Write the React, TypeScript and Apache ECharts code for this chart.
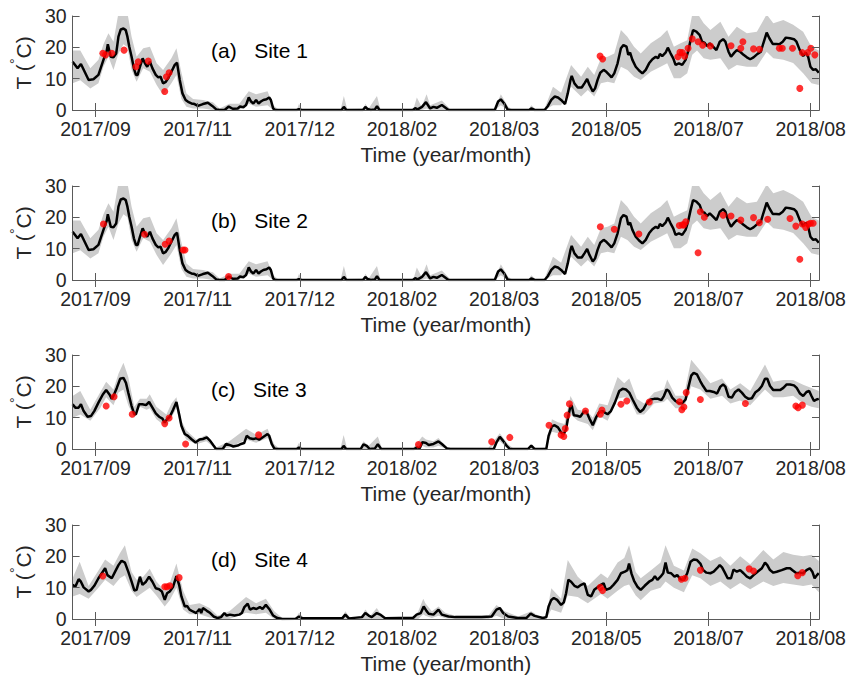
import React, { useEffect, useRef } from "react";
import * as echarts from "echarts";

// Day numbers count from 2017-09-01 (day 0).
const tickDays = [14, 63, 112, 161, 210, 259, 308, 357];
const tickLabels = ["2017/09", "2017/11", "2017/12", "2018/02", "2018/03", "2018/05", "2018/07", "2018/08"];
const dayRange = [3, 361];
const tempTicks = [0, 10, 20, 30];
const panelTitles = ["(a)   Site 1", "(b)   Site 2", "(c)   Site 3", "(d)   Site 4"];

// Simulated daily mean water temperature [day, °C]; Sites 1 and 2 share one grid cell.
const meanSites12 = [
  [3.0, 15.4], [5.4, 13.3], [7.0, 14.7], [10.7, 9.6], [13.0, 9.8], [15.4, 11.2], [17.8, 16], [19.4, 19], [19.9, 21],
  [21.3, 17], [22.6, 16.8], [23.9, 18], [25.0, 23.4], [26.1, 25.7], [27.4, 26], [28.5, 25.5], [29.3, 23.4], [30.2, 20.2],
  [31.3, 17], [32.4, 13.3], [33.4, 11.2], [34.2, 11.2], [35.3, 13.8], [36.6, 16.5], [37.7, 14.9], [38.8, 13.8], [40.1, 15.4],
  [41.3, 13.3], [42.9, 11.2], [44.1, 10.4], [45.2, 10.6], [46.4, 8.5], [47.7, 9], [48.8, 10.1], [50.4, 12.2], [52.0, 14.4],
  [53.1, 15.1], [54.4, 9.6], [55.7, 5.3], [57.2, 3.2], [58.4, 2.6], [60.0, 2.1], [61.5, 1.9], [63.1, 1.3], [65.5, 1.9],
  [67.9, 2.3], [70.0, 1.3], [71.9, 0.2], [73.5, 0], [75.9, 0], [77.9, 1.1], [79.8, 0.4], [82.2, 0.5], [83.3, 1.1], [84.9, 0.9],
  [86.2, 1.6], [87.5, 4], [88.6, 2.7], [89.7, 2.1], [91.0, 3.2], [92.2, 2.1], [93.3, 2.7], [94.5, 3.2], [96.0, 3.4], [97.3, 4],
  [98.1, 3.2], [99.2, 0.5], [100.2, 0], [110.5, 0], [111.6, 0.3], [112.7, 0], [132, 0], [133.1, 1], [134.3, 0], [142.3, 0],
  [143.4, 1], [144.5, 0.3], [146, 0], [148, 0.2], [149, 1.2], [150.2, 0], [166.2, 0], [167.3, 0.6], [168.5, 0.2], [170.6, 1],
  [172.5, 2.5], [174.5, 0.5], [176.1, 1], [177.7, 0.7], [180.1, 1.6], [181.7, 0.8], [183.3, 0], [205.5, 0], [207.1, 2.7],
  [208.4, 3.4], [210, 2.1], [211.6, 0.2], [212.7, 0], [222, 0], [223, 0.5], [224.6, 0], [229.4, 0], [231, 1.3], [232.6, 3.2],
  [234.2, 4.3], [235.8, 4], [237.3, 3.2], [239.2, 1.9], [240.5, 5.3], [241.8, 9.6], [242.4, 10.9], [243.7, 8.5], [245.3, 7.2],
  [247.2, 7.2], [248.5, 8.5], [249.8, 9.9], [250.9, 8], [252.5, 5.9], [253.6, 6.9], [254.8, 9.6], [256.1, 11.9], [257.7, 12.8],
  [259, 12.2], [260.4, 11.2], [261.5, 10.4], [262.8, 11.7], [264.4, 14.9], [266, 19.7], [267.2, 20.7], [268.7, 20.2],
  [269.5, 17.6], [270.4, 18.3], [271.5, 16], [273.1, 13.8], [274.7, 12.6], [276.3, 11.7], [277.9, 12.8], [279.5, 14.9],
  [281.1, 16.2], [282.7, 17], [283.8, 16.5], [284.7, 17.9], [285.8, 17.2], [287.4, 18.3], [288.5, 19.9], [289.8, 18.1],
  [291.1, 16.5], [292.2, 14.4], [293.8, 14.9], [295.4, 14.4], [297, 16], [298.2, 18.6], [299.4, 22.3], [300.6, 25.5],
  [302.2, 25], [303.8, 23.9], [304.9, 21.8], [306, 21.5], [307.3, 20.4], [308.6, 21.3], [310.2, 20.2], [311.8, 19.1],
  [313.4, 21.8], [315, 22.6], [316.1, 21.8], [317.6, 18.6], [318.8, 17], [320.4, 18.3], [321.6, 19.1], [323.2, 18.6],
  [324.8, 17.6], [326.4, 16.8], [328, 16.2], [329.6, 16.8], [331.5, 17.9], [333.1, 18.6], [334.3, 21.3], [335.9, 24.7],
  [337.2, 22.9], [338.8, 21.1], [340.4, 21.1], [342, 21], [343.6, 21.8], [345.1, 23.1], [347.1, 22.9], [349, 22.6],
  [350.2, 21.8], [351.8, 19.1], [353.4, 17.2], [354.6, 18.3], [355.8, 17], [356.9, 13.8], [358.2, 12.8], [359.5, 13], [360.9, 11.9],
];

// Uncertainty envelope [day, lower, upper] in °C.
const bandSites12 = [
  [3, 8.5, 19], [6.7, 9.5, 19], [11.5, 6.9, 13.3], [15.4, 8.5, 16], [17.8, 13.8, 21], [20.2, 17, 24.5], [22.6, 12.8, 21.8],
  [25, 18, 31], [27.4, 21, 32], [29.3, 20, 31], [31.3, 12.8, 23.4], [33.7, 9, 17], [36.9, 13.3, 19.7], [40.1, 12.2, 20.2],
  [43.3, 8, 14.9], [46.4, 4.8, 12.8], [50.4, 8.5, 16.5], [52.8, 11.2, 19.7], [55.2, 3.5, 12], [57.6, 1, 5.3], [60.8, 0.5, 3.5],
  [65.5, 0.5, 3.2], [70.3, 0, 2.5], [73.5, 0, 0.5], [78.2, 0, 2], [83, 0, 2], [87.5, 2, 6], [91, 1, 5], [96.5, 1.5, 6],
  [99.2, 0, 1.5], [102.1, 0, 0], [110.5, 0, 0], [111.6, 0, 2], [113.2, 0, 0], [131.5, 0, 0], [133.1, 0, 4.5], [134.7, 0, 0.3],
  [142.6, 0, 0.5], [143.4, 0, 2], [145, 0, 0.5], [149, 0, 4.5], [150.6, 0, 0.3], [166.5, 0, 0.3], [168.1, 0, 4], [170.4, 0, 1],
  [172.8, 0.5, 5], [174.5, 0, 1.5], [180.1, 0, 3], [184.1, 0, 0.3], [205.5, 0, 0.5], [208.4, 1.5, 5], [211.9, 0, 1],
  [214.3, 0, 0], [221.5, 0, 0], [223, 0, 1.5], [225.4, 0, 0], [229.4, 0, 0.5], [233.4, 1.5, 7.4], [237.3, 1.5, 5.5],
  [242.1, 7.4, 14.4], [246.9, 4.3, 10.6], [250.1, 6.4, 13.8], [253.2, 4.3, 11.2], [256.4, 8.5, 16.5], [259.6, 9, 17],
  [262.8, 8.5, 18], [266, 13.8, 25.5], [269.1, 12.8, 23.4], [272.3, 10.6, 20.2], [275.5, 9.6, 18], [280.3, 12.2, 21.3],
  [285, 13.8, 23.4], [288.2, 14.9, 25.5], [291.4, 10.1, 20.2], [294.6, 10.1, 21.3], [297.8, 11.7, 22.3], [300.2, 17.6, 30.5],
  [302.5, 19, 31], [305.7, 16.5, 27.7], [308.9, 16, 25.5], [313.7, 16.5, 28.2], [317.6, 12.8, 23.4], [321.6, 14.4, 26.6],
  [326.4, 13.8, 24.5], [331.2, 13.8, 25], [335.9, 18.6, 30.5], [339.1, 16.5, 27.7], [343.9, 16, 28.7], [348.6, 15, 27.2],
  [353.4, 11.7, 25], [357.4, 8.5, 20.2], [360.9, 8, 19],
];

const meanSite3 = [
  [3.0, 14.3], [4.3, 13.2], [5.9, 13.2], [7.0, 14.3], [8.3, 12.1], [10.2, 10.3], [11.8, 10.5], [13.4, 12.1], [15.4, 14.8],
  [17.5, 17.4], [19.1, 18.8], [20.7, 17.4], [21.8, 16], [22.9, 17.4], [24.2, 19.5], [25.8, 22.4], [27.4, 22.7], [28.6, 21.1],
  [29.7, 18], [31.3, 13.7], [32.6, 11.1], [33.4, 11.1], [34.9, 14.3], [36.5, 14.3], [38.2, 14], [39.7, 15], [41.3, 13.2],
  [42.9, 11.4], [44.5, 10.3], [46.1, 9.7], [47.2, 8.4], [48.3, 9.5], [49.6, 10.3], [51.2, 12.5], [52.8, 15], [54.1, 11.1],
  [55.2, 7.4], [56.8, 4.8], [58.3, 4.2], [59.9, 3.2], [62.0, 2.1], [63.9, 3], [65.5, 3.2], [67.4, 3.7], [69.0, 2.6],
  [70.6, 1.1], [71.8, 0], [75.0, 0], [76.6, 1.6], [78.2, 1.3], [80.1, 0.8], [82.2, 1.1], [83.8, 1.6], [85.3, 1.9], [86.5, 4.2],
  [88.0, 3.4], [89.6, 3.2], [91.2, 3.4], [92.5, 3], [94.1, 3.7], [96.5, 4.8], [97.3, 4.2], [98.5, 1.6], [99.7, 0.2], [100.8, 0],
  [110.5, 0], [111.6, 0.5], [112.7, 0], [132, 0], [133, 1], [134.2, 0], [141.2, 0], [142.5, 1.5], [144.1, 1], [145.5, 0],
  [148, 0.2], [149.4, 1.5], [151, 0], [166.8, 0], [168.2, 0.5], [169.5, 0.2], [170.8, 2.2], [172.5, 1.9], [173.8, 1.3],
  [176.1, 1.6], [178.5, 2.4], [180.1, 1.6], [182.5, 0.2], [184.1, 0], [205, 0], [206.3, 2.1], [207.9, 3.9], [209.5, 2.6],
  [211.1, 1.1], [212.7, 0], [221.4, 0], [223, 1.1], [224.6, 0], [230.2, 0], [231.3, 4.2], [232.9, 7.2], [234.2, 7.6],
  [235.8, 6.9], [237.3, 5.3], [238.6, 4.8], [239.7, 6.3], [240.5, 9.5], [241.8, 13.7], [242.4, 13.9], [243.4, 10.8],
  [245, 10.6], [246.5, 10.3], [248.1, 11.8], [249.3, 12.1], [250.9, 9.7], [252.5, 7.6], [254, 10], [255.6, 11.8],
  [257.2, 12.1], [258.3, 11.6], [259.6, 11.1], [261.2, 12.1], [263.1, 14.8], [265.2, 18.5], [266.8, 19.2], [268.4, 19],
  [270, 18], [271.6, 15.8], [273.6, 13.2], [275.2, 11.8], [276.8, 12.7], [278.4, 14.6], [280.3, 15.8], [281.9, 16],
  [283.8, 16], [285.4, 15.6], [286.6, 16.9], [287.9, 19], [289, 18.5], [290.6, 16.4], [292.2, 15.3], [293.8, 14.6],
  [295.4, 14.6], [297, 15.8], [298.5, 20.1], [299.7, 23.4], [300.9, 24.3], [302.5, 23.8], [304.1, 21.6], [305.4, 20.1],
  [307, 18.5], [308.6, 18.5], [310.5, 18.2], [312.1, 17.7], [313.7, 19.9], [315, 20.6], [316.1, 19.9], [317.6, 16.7],
  [319.2, 16.4], [320.8, 18.2], [322.4, 19], [324, 18], [325.6, 16.7], [327.2, 16], [328.8, 16.2], [330.4, 18], [332, 18.8],
  [333.6, 20.1], [335.1, 22.4], [336.2, 22.4], [337.5, 20.1], [339.1, 18.8], [340.7, 18.8], [342.3, 18.8], [343.9, 19.5],
  [345.5, 20.6], [347.1, 20.6], [349, 20.3], [350.3, 19.5], [351.9, 17.7], [353.4, 16.9], [355, 18.2], [356.3, 18.5],
  [357.4, 16.9], [358.6, 15.3], [359.8, 15.8], [360.9, 16],
];

const bandSite3 = [
  [3, 10, 16.9], [6.7, 11, 18.5], [11.5, 9, 12.5], [16.2, 13, 18], [19.1, 16.5, 21.5], [22.6, 14, 19], [25, 18, 24],
  [27.4, 19, 27.5], [29.7, 14, 23], [32.6, 10, 13.5], [35.3, 13.5, 16], [38.5, 12.5, 16], [40, 13, 17.5], [43.2, 9.5, 13.5],
  [46.1, 8, 12], [48, 7.5, 11], [50.4, 10, 14.5], [52.8, 13, 16.5], [55.2, 6, 9], [57.5, 3, 6], [62.3, 1.5, 3],
  [67.1, 2.5, 4.5], [71.8, 0, 0.5], [78.2, 0.5, 2.5], [86.2, 3, 6.5], [91, 2, 4.5], [96.5, 3.5, 6.5], [99.7, 0, 1.5],
  [102, 0, 0.2], [110, 0, 0], [111.6, 0, 2], [113.2, 0, 0], [131.4, 0, 0], [133, 0, 4.5], [134.6, 0, 0.3], [140.9, 0, 0.3],
  [142.5, 0, 2.5], [145, 0, 1], [149.4, 0, 4], [151.3, 0, 0.3], [166.4, 0, 0.3], [170.7, 1, 4], [172.5, 0.5, 3],
  [176.1, 0.5, 2.5], [178.5, 1, 3.5], [182.5, 0, 0.5], [202.4, 0, 0.3], [207.9, 2.5, 5], [211.9, 0, 1.5], [214.3, 0, 0.2],
  [221.4, 0, 0.3], [223, 0, 1.5], [225.4, 0, 0.2], [230.2, 0, 0.5], [232.9, 5.5, 9.5], [235.8, 5, 8.5], [238.9, 4, 8],
  [241.8, 11, 16.9], [245.3, 9, 12.5], [250.1, 8, 12], [252.5, 6, 10], [255.6, 10.5, 14.5], [259.6, 9, 14], [264.4, 16, 23],
  [267.6, 16.5, 21], [270, 16, 22.5], [273.6, 11, 16], [277.1, 11, 14.5], [281.9, 14.5, 18], [286.6, 15, 19],
  [288.2, 16, 22.2], [292.2, 13, 17], [296.2, 13, 17], [299.7, 20, 28.5], [304.1, 19, 25], [308.9, 16, 21], [314.5, 17, 22.5],
  [318.5, 14.5, 19], [323.2, 15.5, 21], [328, 14, 18.5], [335.1, 19, 27], [339.1, 16.5, 21.5], [343.9, 16.5, 22],
  [348.6, 17, 22], [353.4, 14.5, 20.5], [357.4, 13.5, 19.5], [360.9, 13, 18.5],
];

const meanSite4 = [
  [3.0, 10.9], [4.3, 10.3], [5.9, 12.7], [7.0, 11.9], [8.3, 10.1], [10.7, 8.8], [11.8, 9.3], [13.4, 10.6], [15.4, 13],
  [17.5, 15.1], [18.6, 16.2], [19.7, 14], [21.8, 13], [23.4, 15.1], [25, 17.2], [26.5, 18.6], [28.1, 18], [29.7, 15.1],
  [31.3, 11.9], [32.6, 9.1], [33.7, 9.3], [35.3, 13.5], [36.5, 10.9], [38.2, 11.9], [39.7, 13.5], [41.3, 11.9], [42.9, 9.8],
  [44.5, 9.5], [45.8, 8.8], [47.2, 6.1], [48.3, 8.2], [49.6, 8.8], [51.2, 10.3], [52.8, 13.7], [54.1, 10.9], [55.2, 7.2],
  [56.8, 4], [57.9, 4.2], [59.1, 3], [60.7, 2.4], [62.3, 1.9], [63.9, 3.2], [64.7, 1.9], [65.5, 3.5], [67.4, 2.6], [69, 1.9],
  [70.6, 0.8], [72.6, 0.3], [74.2, 0.6], [75.8, 1.9], [76.9, 1.1], [78.5, 1.4], [80.6, 1.1], [83, 1.4], [84.2, 1.9],
  [85.4, 3.8], [87, 4.9], [88.1, 3], [89.6, 3.5], [91.2, 3.2], [92.8, 3.8], [94.1, 3.2], [95.7, 4.5], [97.3, 3.2], [99.2, 1.1],
  [101.2, 0.3], [103.6, 0], [110, 0.1], [111.6, 0.8], [113.2, 0.2], [132.3, 0.2], [133.8, 1.4], [135.5, 0.2], [141.8, 0.6],
  [143.4, 1.9], [145, 1.1], [146.5, 0.6], [148.9, 1.9], [150.5, 1.4], [152.9, 0.2], [166.4, 0.4], [168, 1.4], [170, 1.9],
  [171.4, 4], [172.7, 2.6], [173.8, 1.7], [176.1, 1.4], [178.5, 3], [180.1, 1.4], [183.3, 0.8], [186.5, 0.6], [191.3, 0.6],
  [196, 0.6], [199.2, 0.6], [204, 0.8], [206.3, 3], [207.9, 3.5], [209.5, 1.9], [211.9, 0.8], [216.5, 0.3], [220.6, 0.3],
  [222.7, 1.7], [224.6, 1], [228.6, 0.3], [230.2, 0.6], [231.3, 4], [232.6, 6.1], [233.8, 6.7], [235.4, 6.1], [237.3, 4.5],
  [238.6, 5.3], [239.7, 8.2], [240.8, 12.5], [242.1, 11.9], [243.7, 10.6], [245.3, 10.1], [246.9, 10.9], [248.5, 11.4],
  [250.1, 7.7], [251.7, 7.2], [253.2, 9.3], [254.8, 10.1], [256.4, 10.9], [257.7, 11.4], [258.8, 9.3], [260.8, 9.8],
  [262.4, 10.9], [264.4, 12.5], [266, 14.6], [267.9, 15.1], [269.1, 15.6], [269.9, 17.7], [271.1, 14.4], [272.3, 12.2],
  [273.9, 10.3], [275.5, 9.3], [277.4, 10.6], [279.5, 11.9], [281.1, 12.5], [282.3, 13.7], [283.5, 12.5], [285, 13.5],
  [286.3, 14.6], [287.4, 18], [288.5, 14.8], [290.1, 14.6], [291.7, 13.5], [293, 14], [294.6, 12.7], [296.2, 12.5],
  [297.8, 14.6], [299.4, 18.3], [300.9, 19], [302.5, 18.8], [304.1, 17.7], [305.4, 15.6], [307, 14.8], [308.9, 14.6],
  [310.5, 15.1], [312.1, 16.2], [313.4, 17.2], [314.5, 16.5], [315.6, 15.1], [317.2, 13], [318.8, 13], [320, 15.8],
  [321.6, 15.1], [323.2, 15.6], [324.8, 14.6], [326.4, 13.5], [328, 13], [329.6, 14], [331.5, 15.1], [333.6, 16.2],
  [335.1, 18], [336.2, 17.2], [337.5, 15.6], [339.1, 14.8], [340.7, 15.1], [343.1, 15.6], [345.5, 16.2], [347.1, 16.2],
  [348.6, 15.4], [350.2, 14.6], [351.8, 14.8], [353.4, 14.6], [355, 15.6], [356.6, 16.2], [357.8, 15.1], [358.9, 13],
  [360, 14], [360.9, 14.6],
];

const bandSite4 = [
  [3, 7.2, 13], [6.4, 8, 18.3], [10.7, 6.5, 10.5], [15.4, 10, 15.5], [18.6, 12.5, 19], [22.6, 10.5, 17], [25.7, 13, 21],
  [28.1, 14, 23.5], [31.3, 9, 15], [33.7, 7, 12.5], [36.9, 8.5, 13.5], [40, 10, 16], [43.2, 7.5, 12], [47.2, 4, 9],
  [49.6, 6, 11.5], [52.8, 10, 17.7], [56, 3, 9], [59.1, 1.5, 4.5], [63.9, 1.5, 5], [68.7, 0.5, 3.5], [72.6, 0, 1],
  [78.2, 0, 2.5], [86.2, 2, 7], [91, 1.5, 5], [95.7, 2, 6.5], [99.7, 0, 2.5], [103.6, 0, 0.3], [110, 0, 0.3], [111.6, 0, 2],
  [114, 0, 0.3], [132.3, 0, 0.3], [133.8, 0, 2.5], [136.2, 0, 0.3], [141.8, 0, 1], [143.4, 0, 3], [145.8, 0, 1],
  [148.9, 0, 3.5], [151.3, 0, 1], [153.7, 0, 0.3], [166.4, 0, 0.5], [168.8, 0, 2.5], [171.2, 1.5, 6.5], [172.2, 1, 5],
  [175.3, 0.3, 2.5], [178.5, 1, 4], [181.7, 0.2, 2], [186.5, 0, 1], [194.4, 0, 1], [202.4, 0, 1], [206.3, 1, 4.5],
  [210.3, 0, 2.5], [216.7, 0, 0.8], [223, 0, 2.5], [227.8, 0, 0.5], [230.2, 0, 1], [232.6, 3, 9.8], [237.3, 2, 6.5],
  [240.5, 7.5, 18.8], [245.3, 7, 13.5], [250.1, 5, 10.5], [256.4, 8, 14.5], [259.6, 6.5, 13], [264.4, 9, 18],
  [267.6, 10.5, 19.5], [269.9, 11, 23.5], [273.1, 7.5, 15], [275.5, 6, 13], [280.3, 9, 15.5], [285, 10, 18],
  [287.4, 12, 23.5], [291.4, 10, 17], [296.2, 8.5, 15.5], [300.2, 14, 22.5], [304.1, 13, 21], [308.9, 10.5, 18.5],
  [313.7, 12, 20], [318.5, 9.5, 17], [323.2, 11.5, 20], [328, 9.5, 17.5], [334.3, 12, 22], [339.1, 10.5, 19],
  [343.9, 11.5, 21.4], [348.6, 11, 20.5], [353.4, 10.5, 20], [357.4, 11, 20.5], [360.9, 8.5, 18.5],
];

// Observed temperatures [day, °C].
const obsSite1 = [
  [17.5, 18.1], [18.8, 17.6], [21.8, 18.1], [27.7, 19.1], [33.4, 13.8], [34.5, 15.4], [39.3, 15.6], [47.2, 5.9], [48, 10.6],
  [49.3, 11.9], [256, 17.2], [257.2, 16.3], [293.3, 17], [294.3, 18.4], [295.5, 18.3], [296.5, 17.2], [298.2, 19.7],
  [300.2, 22.7], [303, 21.8], [305.2, 20.7], [308.9, 20.4], [318.8, 20.5], [323.5, 19.7], [324.5, 21.8], [329.6, 19.5],
  [332.4, 19.4], [342, 19.7], [343.4, 19.7], [348.3, 19.7], [351.8, 6.9], [353, 18.3], [355.5, 18.3], [357.1, 19.7], [359, 17.6],
];
const obsSite2 = [
  [17.8, 17.9], [37.5, 14.6], [47.4, 11.4], [49.3, 12.4], [56, 9.6], [56.9, 9.6], [77.8, 1.1], [256.1, 17], [262.8, 16.2],
  [274.6, 14.7], [294, 17.4], [295.5, 17.6], [296.2, 17.6], [297.1, 18.6], [303, 8.7], [304.1, 21.8], [306, 20], [315, 20.7],
  [318.8, 20.4], [323.5, 19.1], [329.6, 19.9], [332.4, 18.3], [336.4, 19.4], [347.1, 19.6], [349.9, 17.2], [351.8, 6.6],
  [353, 17.9], [354.6, 16.8], [355.8, 17.8], [356.9, 18.1], [358.2, 18.1],
];
const obsSite3 = [
  [19.1, 13.7], [22.9, 16.7], [31.6, 11.1], [47.2, 8.1], [49.3, 9.9], [57.2, 1.6], [92.2, 4.5], [168.9, 1.4], [204, 2.3],
  [212.7, 3.7], [231.5, 7.6], [237.3, 4.5], [238.6, 4], [239.3, 6.5], [240.2, 10.8], [241.3, 14.4], [249, 12.1],
  [256.1, 11.1], [256.9, 12.4], [266, 14.3], [268.8, 15.3], [279.6, 15], [294.1, 15.1], [295.2, 12.5], [296.2, 13.4],
  [297.3, 18], [304.1, 15.8], [325.7, 14.5], [349.9, 13.7], [351, 13.2], [353, 14],
];
const obsSite4 = [
  [17.5, 13.7], [47.2, 10.3], [48.3, 10.3], [49.6, 10.6], [54.1, 13.2], [256.1, 10.1], [257.2, 9.1], [295, 12.7],
  [296.7, 13], [304.1, 15.6], [327.5, 16], [329.6, 15.3], [350.8, 13.8], [353, 14.8],
];

const panels = [
  { title: panelTitles[0], mean: meanSites12, band: bandSites12, obs: obsSite1 },
  { title: panelTitles[1], mean: meanSites12, band: bandSites12, obs: obsSite2 },
  { title: panelTitles[2], mean: meanSite3, band: bandSite3, obs: obsSite3 },
  { title: panelTitles[3], mean: meanSite4, band: bandSite4, obs: obsSite4 },
];

const FONT = "'Liberation Sans', Arial, Helvetica, sans-serif";
const AXIS_COLOR = "#5a5a5a";
const TEXT_COLOR = "#262626";
const panelTops = [16, 186, 355, 525];

function buildOption() {
  const grid: any[] = [];
  const xAxis: any[] = [];
  const yAxis: any[] = [];
  const series: any[] = [];
  const title: any[] = [];

  const tickFormatter = (v: number) => {
    const i = tickDays.indexOf(v);
    return i >= 0 ? tickLabels[i] : "";
  };

  panels.forEach((p, i) => {
    grid.push({ left: 69, top: panelTops[i], width: 750, height: 94, containLabel: false });

    const xCommon = {
      type: "value",
      gridIndex: i,
      min: dayRange[0],
      max: dayRange[1],
      z: 10,
      splitLine: { show: false },
      axisLine: { show: true, lineStyle: { color: AXIS_COLOR, width: 1 } },
      axisTick: { show: true, inside: true, length: 7, customValues: tickDays, lineStyle: { color: AXIS_COLOR } },
    };
    xAxis.push({
      ...xCommon,
      position: "bottom",
      axisLabel: {
        show: true,
        customValues: tickDays,
        formatter: tickFormatter,
        fontSize: 19.5,
        fontFamily: FONT,
        color: TEXT_COLOR,
        margin: 9,
        lineHeight: 20,
      },
      name: "Time (year/month)",
      nameLocation: "middle",
      nameGap: 34,
      nameTextStyle: { fontSize: 21, fontFamily: FONT, color: TEXT_COLOR },
    });
    xAxis.push({ ...xCommon, position: "top", axisLabel: { show: false } });

    const yCommon = {
      type: "value",
      gridIndex: i,
      min: tempTicks[0],
      max: tempTicks[tempTicks.length - 1],
      interval: tempTicks[1] - tempTicks[0],
      z: 10,
      splitLine: { show: false },
      axisLine: { show: true, lineStyle: { color: AXIS_COLOR, width: 1 } },
      axisTick: { show: true, inside: true, length: 7, lineStyle: { color: AXIS_COLOR } },
    };
    yAxis.push({
      ...yCommon,
      position: "left",
      axisLabel: { show: true, fontSize: 19.5, fontFamily: FONT, color: TEXT_COLOR, margin: 6, lineHeight: 15 },
      name: "{a|T (}{b|°}{a|C)}",
      nameLocation: "middle",
      nameGap: 27,
      nameTextStyle: {
        rich: {
          a: { fontSize: 21, fontFamily: FONT, color: TEXT_COLOR, lineHeight: 26, verticalAlign: "bottom" },
          b: { fontSize: 14, fontFamily: FONT, color: TEXT_COLOR, lineHeight: 14, verticalAlign: "top" },
        },
      },
    });
    yAxis.push({ ...yCommon, position: "right", axisLabel: { show: false } });

    const band = p.band;
    series.push({
      type: "custom",
      xAxisIndex: i * 2,
      yAxisIndex: i * 2,
      data: band,
      encode: { x: 0, y: [1, 2] },
      silent: true,
      z: 2,
      renderItem: (params: any, api: any) => {
        if (params.dataIndex !== 0) return null;
        const upper = band.map((b) => api.coord([b[0], b[2]]));
        const lower = band.map((b) => api.coord([b[0], b[1]])).reverse();
        const cs = params.coordSys;
        return {
          type: "polygon",
          shape: { points: upper.concat(lower) },
          style: { fill: "#cccccc", stroke: null },
          clipPath: { type: "rect", shape: { x: cs.x, y: cs.y, width: cs.width, height: cs.height } },
        };
      },
    });
    series.push({
      type: "line",
      xAxisIndex: i * 2,
      yAxisIndex: i * 2,
      data: p.mean,
      showSymbol: false,
      symbol: "none",
      lineStyle: { color: "#000000", width: 2.5 },
      z: 3,
      silent: true,
    });
    series.push({
      type: "scatter",
      xAxisIndex: i * 2,
      yAxisIndex: i * 2,
      data: p.obs,
      symbol: "circle",
      symbolSize: 7,
      itemStyle: { color: "#ff0000" },
      z: 4,
      silent: true,
    });

    title.push({
      text: p.title,
      left: 211,
      top: panelTops[i] + 24,
      textStyle: { fontSize: 21, fontWeight: "normal", fontFamily: FONT, color: "#000000" },
      padding: 0,
    });
  });

  return { animation: false, backgroundColor: "#ffffff", title, grid, xAxis, yAxis, series };
}

export default function App() {
  const ref = useRef<HTMLDivElement>(null);
  useEffect(() => {
    if (!ref.current) return;
    const chart = echarts.init(ref.current, undefined, { renderer: "svg" });
    chart.setOption(buildOption() as any);
    return () => chart.dispose();
  }, []);
  return (
    <div
      ref={ref}
      style={{ position: "fixed", left: 0, top: 0, width: 849, height: 679, background: "#ffffff" }}
    />
  );
}
